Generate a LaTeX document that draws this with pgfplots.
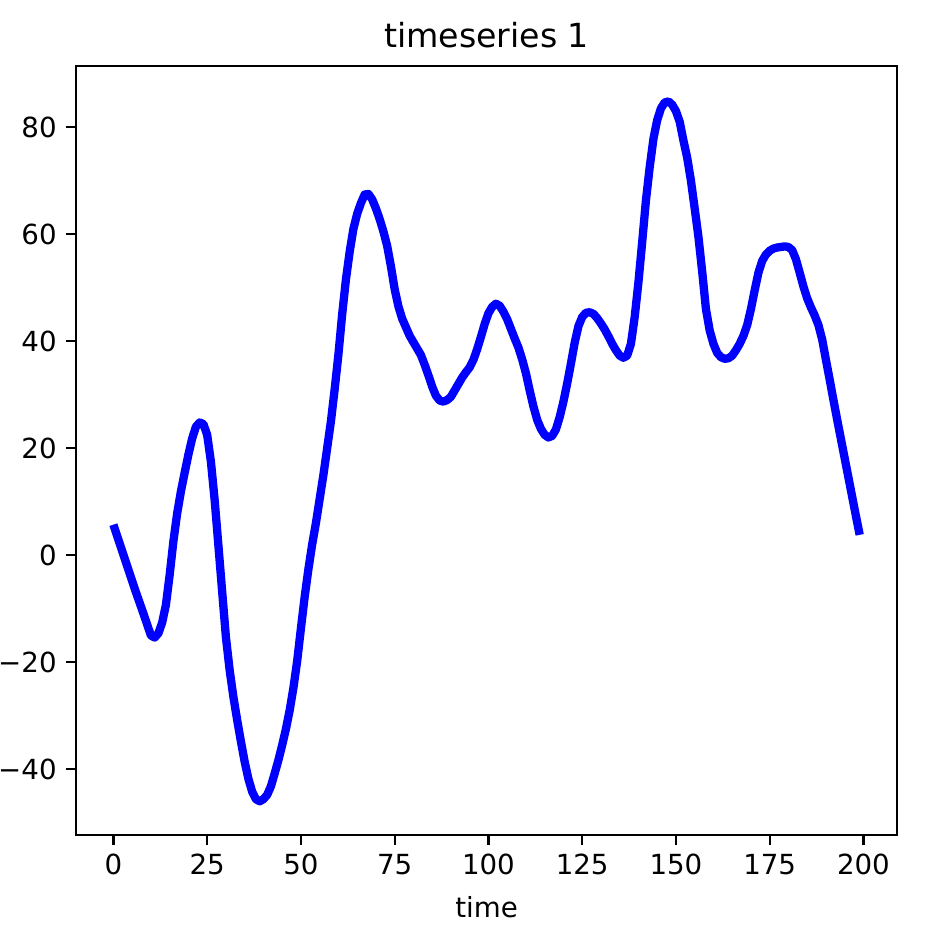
\documentclass[border=0pt]{standalone}
\usepackage{fontspec}
\setmainfont{DejaVu Sans}
\usepackage{pgfplots}
\pgfplotsset{compat=1.18}
\definecolor{lineblue}{RGB}{0,0,255}

\pgfplotstableread{
t v
0 5.7
2 1.5
4 -2.7
6 -6.9
8 -10.9
10 -15.0
11 -15.4
12 -14.6
13 -12.6
14 -9.3
15 -3.7
16 2.6
17 7.8
18 11.9
19 15.4
20 18.8
21 21.8
22 24.0
23 24.8
24 24.5
25 22.5
26 17.5
27 10.3
28 1.8
29 -6.8
30 -15.3
31 -21.5
32 -26.5
33 -30.8
34 -34.8
35 -38.6
36 -41.8
37 -44.2
38 -45.6
39 -46.0
40 -45.6
41 -44.8
42 -43.2
43 -40.8
44 -38.3
45 -35.5
46 -32.5
47 -29.0
48 -24.8
49 -19.8
50 -13.7
51 -7.8
52 -2.6
53 2.0
54 6.0
55 10.5
56 15.0
57 20.0
58 25.0
59 31.0
60 37.5
61 45.0
62 51.5
63 56.7
64 61.0
65 63.8
66 65.8
67 67.4
68 67.5
69 66.5
70 64.8
71 62.8
72 60.5
73 57.8
74 54.0
75 49.7
76 46.5
77 44.2
78 42.6
79 41.0
80 39.8
81 38.6
82 37.4
83 35.6
84 33.6
85 31.5
86 29.8
87 28.9
88 28.7
89 29.0
90 29.6
91 30.8
92 32.0
93 33.2
94 34.2
95 35.1
96 36.5
97 38.5
98 40.8
99 43.2
100 45.2
101 46.4
102 47.0
103 46.6
104 45.5
105 44.1
106 42.3
107 40.5
108 38.8
109 36.6
110 34.0
111 30.8
112 27.8
113 25.3
114 23.6
115 22.5
116 22.0
117 22.3
118 23.5
119 25.8
120 28.7
121 32.1
122 35.8
123 39.7
124 42.8
125 44.5
126 45.3
127 45.4
128 45.1
129 44.3
130 43.3
131 42.2
132 40.9
133 39.5
134 38.3
135 37.3
136 36.9
137 37.3
138 39.5
139 44.5
140 51.0
141 58.5
142 66.3
143 72.5
144 77.8
145 81.3
146 83.5
147 84.6
148 84.8
149 84.2
150 83.0
151 81.0
152 77.5
153 74.3
154 70.0
155 64.8
156 59.5
157 53.0
158 46.0
159 42.0
160 39.5
161 37.8
162 37.0
163 36.7
164 36.8
165 37.3
166 38.3
167 39.5
168 41.0
169 43.0
170 46.0
171 49.5
172 52.8
173 55.0
174 56.2
175 56.9
176 57.3
177 57.5
178 57.6
179 57.7
180 57.6
181 57.0
182 55.3
183 52.8
184 50.2
185 48.0
186 46.3
187 44.8
188 43.0
189 40.3
190 36.5
191 32.8
192 29.0
193 25.3
194 21.7
195 18.1
196 14.5
197 10.9
198 7.3
199 3.8
}\series

\begin{document}
\begin{tikzpicture}
\begin{axis}[
  scale only axis,
  width=296.7pt, height=277.9pt,
  xmin=-9.95, xmax=208.95,
  ymin=-52.3, ymax=91.4,
  xtick={0,25,...,200},
  ytick={-40,-20,0,20,40,60,80},
  yticklabels={−40,−20,0,20,40,60,80},
  /pgf/number format/assume math mode=true,
  tick label style={font=\fontsize{10}{12}\selectfont},
  xticklabel style={text height=7.3pt, text depth=0pt},
  tick align=outside,
  major tick length=3.5pt,
  every tick/.style={black, line width=0.8pt},
  xtick pos=bottom, ytick pos=left,
  axis line style={line width=0.8pt},
  xlabel={time},
  xlabel style={font=\fontsize{10}{12}\selectfont, yshift=-1pt},
  title={timeseries 1},
  title style={font=\fontsize{12}{14}\selectfont, yshift=-3pt},
  clip=true,
]
\addplot[lineblue, line width=3pt, line join=round, line cap=butt] table[x=t, y=v] {\series};
\end{axis}
\pgfresetboundingbox
\path (current axis.south west)+(-27.5pt,-35.1pt) coordinate (bl);
\path (current axis.north east)+(15.9pt,23.9pt) coordinate (tr);
\path[use as bounding box] (bl) rectangle (tr);
\end{tikzpicture}
\end{document}
